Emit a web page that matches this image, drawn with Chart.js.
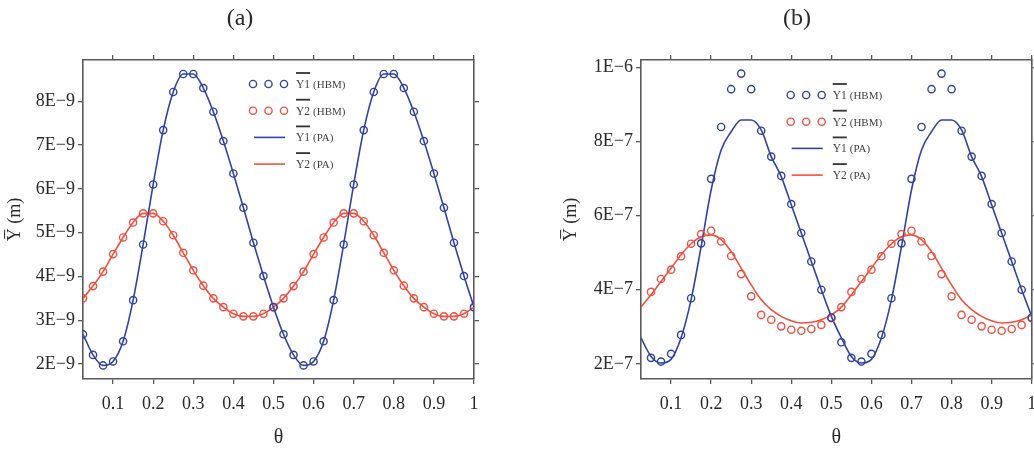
<!DOCTYPE html>
<html>
<head>
<meta charset="utf-8">
<script src="https://cdn.jsdelivr.net/npm/chart.js@4.4.0/dist/chart.umd.min.js"></script>
<style>
  html, body { margin: 0; padding: 0; background: #fff; }
  #wrapA { position: absolute; left: 0; top: 0; }
  #wrapB { position: absolute; left: 560px; top: 0; }
</style>
</head>
<body>
<div id="wrapA"><canvas id="chartA" width="480" height="468"></canvas></div>
<div id="wrapB"><canvas id="chartB" width="474" height="468"></canvas></div>
<script>
// theta values of the PA curves (both panels) and of the HBM circles
const thetaLine = [0.025, 0.05, 0.075, 0.1, 0.125, 0.15, 0.175, 0.2, 0.225, 0.25,
  0.275, 0.3, 0.325, 0.35, 0.375, 0.4, 0.425, 0.45, 0.475, 0.5,
  0.525, 0.55, 0.575, 0.6, 0.625, 0.65, 0.675, 0.7, 0.725, 0.75,
  0.775, 0.8, 0.825, 0.85, 0.875, 0.9, 0.925, 0.95, 0.975, 1.0];
const thetaHbmA = thetaLine;
const thetaHbmB = [0.05, 0.075, 0.1, 0.125, 0.15, 0.175, 0.2, 0.225, 0.25,
  0.275, 0.3, 0.325, 0.35, 0.375, 0.4, 0.425, 0.45, 0.475, 0.5,
  0.525, 0.55, 0.575, 0.6, 0.625, 0.65, 0.675, 0.7, 0.725, 0.75,
  0.775, 0.8, 0.825, 0.85, 0.875, 0.9, 0.925, 0.95, 0.975, 1.0];

// panel (a), values in units of 1E-9 m
const unitA = 1e-9;
const y1HbmA = [2.68, 2.21, 1.97, 2.06, 2.52, 3.46, 4.73, 6.10, 7.34, 8.21,
  8.62, 8.62, 8.30, 7.76, 7.09, 6.35, 5.57, 4.77, 4.01, 3.30,
  2.68, 2.21, 1.97, 2.06, 2.52, 3.46, 4.73, 6.10, 7.34, 8.21,
  8.62, 8.62, 8.30, 7.76, 7.09, 6.35, 5.57, 4.77, 4.01, 3.30];
const y2HbmA = [3.50, 3.78, 4.11, 4.51, 4.89, 5.23, 5.44, 5.44, 5.26, 4.94,
  4.54, 4.14, 3.79, 3.50, 3.30, 3.15, 3.09, 3.09, 3.15, 3.30,
  3.50, 3.78, 4.11, 4.51, 4.89, 5.23, 5.44, 5.44, 5.26, 4.94,
  4.54, 4.14, 3.79, 3.50, 3.30, 3.15, 3.09, 3.09, 3.15, 3.30];
const y1PaA = [2.68, 2.21, 1.97, 2.06, 2.52, 3.46, 4.73, 6.10, 7.34, 8.21,
  8.62, 8.62, 8.30, 7.76, 7.09, 6.35, 5.57, 4.77, 4.01, 3.30,
  2.68, 2.21, 1.97, 2.06, 2.52, 3.46, 4.73, 6.10, 7.34, 8.21,
  8.62, 8.62, 8.30, 7.76, 7.09, 6.35, 5.57, 4.77, 4.01, 3.30];
const y2PaA = [3.50, 3.78, 4.11, 4.51, 4.89, 5.23, 5.44, 5.44, 5.26, 4.94,
  4.54, 4.14, 3.79, 3.50, 3.30, 3.15, 3.09, 3.09, 3.15, 3.30,
  3.50, 3.78, 4.11, 4.51, 4.89, 5.23, 5.44, 5.44, 5.26, 4.94,
  4.54, 4.14, 3.79, 3.50, 3.30, 3.15, 3.09, 3.09, 3.15, 3.30];

// panel (b), values in units of 1E-7 m
const unitB = 1e-7;
const y1HbmB = [2.16, 2.06, 2.27, 2.78, 3.77, 5.25, 6.99, 8.39, 9.41,
  9.83, 9.41, 8.29, 7.59, 7.07, 6.31, 5.53, 4.76, 4.00, 3.25,
  2.58, 2.16, 2.06, 2.27, 2.78, 3.77, 5.25, 6.99, 8.39, 9.41,
  9.83, 9.41, 8.29, 7.59, 7.07, 6.31, 5.53, 4.76, 4.00, 3.25];
const y2HbmB = [3.94, 4.29, 4.54, 4.90, 5.24, 5.50, 5.59, 5.30, 4.91,
  4.42, 3.82, 3.32, 3.19, 3.01, 2.92, 2.89, 2.94, 3.05, 3.23,
  3.53, 3.94, 4.29, 4.54, 4.90, 5.24, 5.50, 5.59, 5.30, 4.91,
  4.42, 3.82, 3.32, 3.19, 3.01, 2.92, 2.89, 2.94, 3.05, 3.23];
const y1PaB = [2.70, 2.20, 2.02, 2.12, 2.70, 3.73, 5.16, 6.69, 7.77, 8.26,
  8.58, 8.58, 8.31, 7.59, 7.05, 6.29, 5.53, 4.76, 4.00, 3.28,
  2.70, 2.20, 2.02, 2.12, 2.70, 3.73, 5.16, 6.69, 7.77, 8.26,
  8.58, 8.58, 8.31, 7.59, 7.05, 6.29, 5.53, 4.76, 4.00, 3.28];
const y2PaB = [3.53, 3.86, 4.22, 4.58, 4.94, 5.24, 5.43, 5.48, 5.35, 5.03,
  4.58, 4.13, 3.73, 3.46, 3.28, 3.16, 3.10, 3.12, 3.19, 3.32,
  3.53, 3.86, 4.22, 4.58, 4.94, 5.24, 5.43, 5.48, 5.35, 5.03,
  4.58, 4.13, 3.73, 3.46, 3.28, 3.16, 3.10, 3.12, 3.19, 3.32];

// ticks
const xTicks = [0.1, 0.2, 0.3, 0.4, 0.5, 0.6, 0.7, 0.8, 0.9, 1];
const xTickLabels = ['0.1', '0.2', '0.3', '0.4', '0.5', '0.6', '0.7', '0.8', '0.9', '1'];
const yTicksA = [2e-9, 3e-9, 4e-9, 5e-9, 6e-9, 7e-9, 8e-9];
const yTickLabelsA = ['2E\u22129', '3E\u22129', '4E\u22129', '5E\u22129', '6E\u22129', '7E\u22129', '8E\u22129'];
const yTicksB = [2e-7, 4e-7, 6e-7, 8e-7, 1e-6];
const yTickLabelsB = ['2E\u22127', '4E\u22127', '6E\u22127', '8E\u22127', '1E\u22126'];

const seriesNames = ['Y1 (HBM)', 'Y2 (HBM)', 'Y1 (PA)', 'Y2 (PA)'];

const BLUE = 'rgb(50, 66, 166)';
const RED = 'rgb(242, 80, 64)';
const FRAME = '#5a5a5a';
const TEXT = '#2a2a2a';
const SERIF = '"Liberation Serif", "DejaVu Serif", serif';

const pts = (xs, ys, unit) => xs.map((x, i) => ({ x: x, y: ys[i] * unit }));

// legend with three circles / a line, and an overline over Y1, Y2
const hbmLegend = {
  id: 'hbmLegend',
  afterDatasetsDraw(chart, args, opts) {
    const { ctx, chartArea } = chart;
    const x0 = chartArea.left + opts.dx;
    const y0 = chartArea.top + opts.dy;
    const step = 26.7;
    chart.data.datasets.forEach((ds, i) => {
      const y = y0 + i * step;
      ctx.save();
      ctx.strokeStyle = ds.borderColor;
      ctx.lineWidth = 1.4;
      if (ds.showLine === false) {
        [0, 15.5, 31].forEach(off => {
          ctx.beginPath();
          ctx.arc(x0 + off, y, 3.6, 0, Math.PI * 2);
          ctx.stroke();
        });
      } else {
        ctx.lineWidth = 1.6;
        ctx.beginPath();
        ctx.moveTo(x0 + 1, y);
        ctx.lineTo(x0 + 32, y);
        ctx.stroke();
      }
      const tx = x0 + opts.textDx;
      const parts = ds.label.split(' ');
      ctx.fillStyle = '#444';
      ctx.textBaseline = 'middle';
      ctx.font = '11.5px ' + SERIF;
      ctx.fillText(parts[0], tx, y + 1);
      const w = ctx.measureText(parts[0]).width;
      ctx.font = '11px ' + SERIF;
      ctx.fillText(parts[1], tx + w + 3, y + 1);
      ctx.strokeStyle = '#333';
      ctx.lineWidth = 1.8;
      ctx.beginPath();
      ctx.moveTo(tx, y - 11);
      ctx.lineTo(tx + w, y - 11);
      ctx.stroke();
      ctx.restore();
    });
  }
};

function axisCommon(min, max, ticks, labels, showLabels, size) {
  return {
    type: 'linear',
    min: min,
    max: max,
    afterBuildTicks: s => { s.ticks = ticks.map(v => ({ value: v })); },
    ticks: {
      display: showLabels,
      autoSkip: false,
      maxRotation: 0,
      color: TEXT,
      font: { family: SERIF, size: 18 },
      callback: (v, i) => labels[i]
    },
    grid: { drawOnChartArea: false, drawTicks: true, tickLength: 5, color: FRAME, lineWidth: 1.3 },
    border: { display: true, color: FRAME, width: 1.6 },
    afterFit: s => {
      if (s.isHorizontal()) s.height = size; else s.width = size;
      s.paddingLeft = 0; s.paddingRight = 0; s.paddingTop = 0; s.paddingBottom = 0;
    }
  };
}

function makePanel(id, title, hbmX, y1Hbm, y2Hbm, y1Pa, y2Pa, unit, yMin, yMax, yTicks, yLabels, sizes, legendPos) {
  const x = axisCommon(0.025, 1, xTicks, xTickLabels, true, sizes.bottom);
  x.position = 'bottom';
  x.ticks.padding = 9;
  x.title = { display: true, text: '\u03b8', color: TEXT, font: { family: SERIF, size: 20 }, padding: { top: 0, bottom: 18 } };
  const x2 = axisCommon(0.025, 1, xTicks, xTickLabels, false, sizes.top);
  x2.position = 'top';
  const y = axisCommon(yMin, yMax, yTicks, yLabels, true, sizes.left);
  y.position = 'left';
  y.ticks.padding = 3;
  y.title = { display: true, text: 'Y\u0305 (m)', color: TEXT, font: { family: SERIF, size: 18 }, padding: { top: sizes.yTitlePad, bottom: 0 } };
  const y2 = axisCommon(yMin, yMax, yTicks, yLabels, false, sizes.right);
  y2.position = 'right';

  const circle = (label, color, data) => ({
    label: label, data: data, showLine: false, borderColor: color,
    backgroundColor: 'rgba(0,0,0,0)', pointStyle: 'circle', pointRadius: 3.6, pointBorderWidth: 1.4
  });
  const line = (label, color, data) => ({
    label: label, data: data, showLine: true, borderColor: color, borderWidth: 1.6,
    pointRadius: 0, cubicInterpolationMode: 'monotone', fill: false
  });

  return new Chart(document.getElementById(id), {
    type: 'scatter',
    data: {
      datasets: [
        circle(seriesNames[0], BLUE, pts(hbmX, y1Hbm, unit)),
        circle(seriesNames[1], RED, pts(hbmX, y2Hbm, unit)),
        line(seriesNames[2], BLUE, pts(thetaLine, y1Pa, unit)),
        line(seriesNames[3], RED, pts(thetaLine, y2Pa, unit))
      ]
    },
    options: {
      responsive: false,
      animation: false,
      layout: { padding: 0, autoPadding: false },
      scales: { x: x, x2: x2, y: y, y2: y2 },
      plugins: {
        legend: { display: false },
        tooltip: { enabled: false },
        title: { display: true, text: title, color: TEXT, font: { family: SERIF, size: 24, weight: 'normal' }, padding: { top: 4, bottom: 0 } },
        hbmLegend: legendPos
      }
    },
    plugins: [hbmLegend]
  });
}

makePanel('chartA', '(a)', thetaHbmA, y1HbmA, y2HbmA, y1PaA, y2PaA, unitA,
  1.66e-9, 8.94e-9, yTicksA, yTickLabelsA,
  { top: 27.2, bottom: 89, left: 83, right: 6, yTitlePad: 4 },
  { dx: 170, dy: 24, textDx: 43 });

makePanel('chartB', '(b)', thetaHbmB, y1HbmB, y2HbmB, y1PaB, y2PaB, unitB,
  1.59e-7, 1.0197e-6, yTicksB, yTickLabelsB,
  { top: 27.2, bottom: 89, left: 81, right: 2.3, yTitlePad: 0 },
  { dx: 149.7, dy: 35, textDx: 42 });
</script>
</body>
</html>
